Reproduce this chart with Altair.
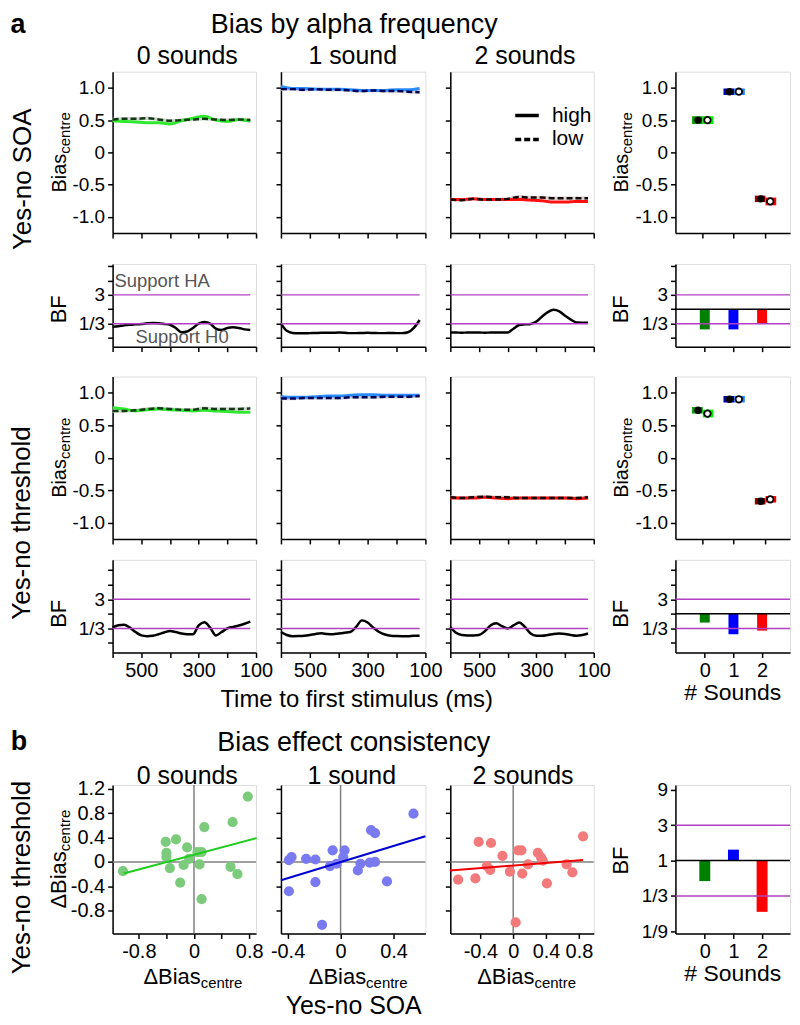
import altair as alt
import pandas as pd

FONT = "Liberation Sans"
PURPLE = "#b23fc4"
GRAY_TXT = "#555555"

# ---------------- data ----------------
times_bias = [600, 560, 520, 480, 440, 400, 360, 320, 280, 240, 200, 160, 120]
times_bf = [600, 580, 560, 540, 520, 500, 480, 460, 440, 420, 400, 380, 360,
            340, 320, 300, 280, 260, 240, 220, 200, 180, 160, 140, 120]

# Bias_centre over time (Yes-no SOA)
soa_0_high = [0.49, 0.48, 0.47, 0.46, 0.46, 0.44, 0.49, 0.53, 0.56, 0.50, 0.48, 0.51, 0.48]
soa_0_low = [0.51, 0.52, 0.52, 0.53, 0.51, 0.49, 0.50, 0.51, 0.52, 0.51, 0.50, 0.51, 0.50]
soa_1_high = [1.02, 0.99, 0.99, 0.98, 0.98, 0.98, 0.97, 0.96, 0.96, 0.96, 0.97, 0.97, 0.99]
soa_1_low = [0.98, 0.98, 0.97, 0.98, 0.97, 0.97, 0.96, 0.95, 0.96, 0.95, 0.95, 0.94, 0.93]
soa_2_high = [-0.73, -0.73, -0.72, -0.73, -0.73, -0.73, -0.73, -0.74, -0.75, -0.77, -0.77, -0.76, -0.76]
soa_2_low = [-0.73, -0.74, -0.72, -0.73, -0.73, -0.72, -0.69, -0.70, -0.70, -0.71, -0.71, -0.71, -0.71]
# Bias_centre over time (Yes-no threshold)
thr_0_high = [0.77, 0.75, 0.72, 0.74, 0.75, 0.74, 0.73, 0.72, 0.73, 0.72, 0.71, 0.70, 0.70]
thr_0_low = [0.72, 0.72, 0.73, 0.75, 0.76, 0.75, 0.74, 0.74, 0.76, 0.75, 0.75, 0.75, 0.76]
thr_1_high = [0.94, 0.93, 0.93, 0.94, 0.95, 0.95, 0.96, 0.97, 0.97, 0.96, 0.96, 0.96, 0.96]
thr_1_low = [0.91, 0.91, 0.92, 0.92, 0.92, 0.92, 0.93, 0.93, 0.93, 0.94, 0.94, 0.94, 0.95]
thr_2_high = [-0.62, -0.62, -0.62, -0.61, -0.62, -0.63, -0.62, -0.62, -0.62, -0.62, -0.62, -0.63, -0.62]
thr_2_low = [-0.61, -0.62, -0.61, -0.60, -0.61, -0.61, -0.62, -0.62, -0.62, -0.62, -0.62, -0.62, -0.61]

# log3(BF) over time
bf_soa_0 = [-1.22, -1.18, -1.12, -1.08, -1.05, -1.02, -0.98, -0.95, -0.97, -1.02, -1.08, -1.3, -1.6,
            -1.55, -1.3, -1.0, -0.88, -1.0, -1.35, -1.45, -1.3, -1.25, -1.3, -1.4, -1.45]
bf_soa_1 = [-1.0, -1.5, -1.65, -1.67, -1.67, -1.66, -1.65, -1.64, -1.64, -1.63, -1.62, -1.63, -1.66,
            -1.66, -1.65, -1.64, -1.65, -1.66, -1.66, -1.65, -1.66, -1.66, -1.6, -1.3, -0.75]
bf_soa_2 = [-1.62, -1.62, -1.63, -1.62, -1.62, -1.62, -1.63, -1.62, -1.62, -1.62, -1.62, -1.35, -1.1,
            -1.05, -1.02, -0.85, -0.5, -0.2, -0.04, -0.15, -0.45, -0.72, -0.92, -0.93, -0.93]
bf_thr_0 = [-0.95, -0.78, -0.75, -0.95, -1.25, -1.48, -1.53, -1.5, -1.4, -1.28, -1.18, -1.25, -1.35,
            -1.4, -1.4, -0.8, -0.58, -0.95, -1.48, -1.25, -1.0, -0.9, -0.8, -0.68, -0.54]
bf_thr_1 = [-1.25, -1.45, -1.53, -1.52, -1.5, -1.45, -1.38, -1.34, -1.38, -1.4, -1.35, -1.3, -1.25,
            -0.9, -0.45, -0.6, -0.95, -1.25, -1.42, -1.5, -1.52, -1.53, -1.53, -1.5, -1.5]
bf_thr_2 = [-0.9, -1.3, -1.45, -1.48, -1.48, -1.45, -1.2, -0.8, -0.65, -0.85, -1.0, -0.8, -0.6,
            -0.9, -1.35, -1.5, -1.5, -1.45, -1.38, -1.35, -1.38, -1.45, -1.5, -1.45, -1.35]

# summaries by number of sounds
sounds = [0, 1, 2]
soa_mean_high = [0.50, 0.94, -0.72]
soa_mean_low = [0.50, 0.94, -0.76]
soa_ci_high = [0.06, 0.05, 0.05]
soa_ci_low = [0.06, 0.05, 0.06]
thr_mean_high = [0.73, 0.90, -0.67]
thr_mean_low = [0.68, 0.90, -0.64]
thr_ci_high = [0.05, 0.05, 0.05]
thr_ci_low = [0.06, 0.05, 0.05]
bf_soa_sum = [-1.4, -1.4, -1.02]
bf_thr_sum = [-0.6, -1.4, -1.15]
bf_consist = [-0.58, 0.31, -1.45]
bf_ref_levels = [1, -1]

# consistency scatter (x: ΔBias Yes-no SOA, y: ΔBias Yes-no threshold)
sc0_x = [-1.03, -0.41, -0.26, -0.40, -0.40, -0.35, -0.20, -0.15, -0.10, -0.07, 0.08, 0.11, 0.15, 0.11, 0.56, 0.53, 0.63, 0.78, 0.05]
sc0_y = [-0.15, 0.33, 0.37, 0.15, 0.08, -0.10, -0.34, -0.05, 0.24, 0.05, -0.04, 0.16, 0.57, -0.61, 0.65, -0.08, -0.20, 1.07, 0.16]
sc1_x = [-0.39, -0.37, -0.39, -0.26, -0.19, -0.19, -0.14, -0.06, -0.08, -0.03, 0.03, 0.02, 0.13, 0.15, 0.22, 0.26, 0.23, 0.26, 0.35, 0.55]
sc1_y = [0.03, 0.08, -0.48, 0.05, 0.04, -0.33, -1.03, 0.19, -0.07, -0.03, 0.19, 0.08, -0.14, -0.03, -0.01, 0.0, 0.52, 0.47, -0.32, 0.79]
sc2_x = [-0.67, -0.46, -0.42, -0.27, -0.32, -0.28, -0.13, -0.04, 0.06, 0.10, 0.11, 0.18, 0.03, 0.30, 0.36, 0.41, 0.65, 0.72, 0.85, 0.34]
sc2_y = [-0.29, -0.27, 0.33, 0.31, -0.07, -0.13, 0.10, -0.16, 0.19, 0.19, -0.19, -0.04, -0.99, 0.15, 0.02, -0.35, -0.04, -0.17, 0.42, 0.07]
fit0_x = [-1.02, 0.91]
fit0_y = [-0.19, 0.39]
fit1_x = [-0.45, 0.64]
fit1_y = [-0.30, 0.42]
fit2_x = [-0.77, 0.85]
fit2_y = [-0.14, 0.03]

# tick labels
time_ticks = [600, 500, 400, 300, 200, 100]
time_tick_labels = ["", "500", "", "300", "", "100"]
bias_ticks = [-1, -0.5, 0, 0.5, 1]
bias_tick_labels = ["-1.0", "-0.5", "0", "0.5", "1.0"]
bf_ticks = [-2, -1, 0, 1, 2, 3]
bf_tick_labels = ["", "1/3", "", "3", "", ""]
bf9_ticks = [-2, -1, 0, 1, 2]
bf9_tick_labels = ["1/9", "1/3", "1", "3", "9"]
sound_tick_labels = ["0", "1", "2"]
scy_ticks = [-0.8, -0.4, 0, 0.4, 0.8, 1.2]
scy_tick_labels = ["-0.8", "-0.4", "0", "0.4", "0.8", "1.2"]
scx0_ticks = [-0.8, -0.4, 0, 0.4, 0.8]
scx0_tick_labels = ["-0.8", "", "0", "", "0.8"]
scx1_ticks = [-0.4, 0, 0.4]
scx1_tick_labels = ["-0.4", "0", "0.4"]
scx2_ticks = [-0.4, 0, 0.4, 0.8]
scx2_tick_labels = ["-0.4", "0", "0.4", "0.8"]

# ---------------- styles ----------------
HIGH_LINE = ["#30e830", "#2a8cff", "#ff1010"]
LOW_LINE = ["#123a12", "#00005a", "#1a0505"]
RECT_HIGH = ["#00a000", "#0000b4", "#960000"]
RECT_LOW = ["#00f000", "#1e82ff", "#ff0000"]
BAR = ["#008000", "#0000ff", "#ff0000"]
SCAT = ["#7ccb7c", "#7a7af0", "#f27a7a"]
FITC = ["#1fcc1f", "#0000d0", "#ee0000"]

W = [144, 145, 144, 115]
H = [162, 83, 163, 93, 149]
GAPS = [31, 30, 21, 133]
COL_GAP = 25
WIDE_GAP = 82
TIME_DOM = [100, 600]
BIAS_DOM = [-1.25, 1.25]
BF_DOM2 = [-2.6, 3.15]
BF_DOM4 = [-2.65, 3.7]
BF_DOMB = [-2.06, 2.14]
SOUND_DOM = [-0.85, 2.8]
SCY_DOM = [-1.17, 1.26]
SCX_DOMS = [[-1.18, 0.9], [-0.45, 0.64], [-0.765, 0.98]]

ONE = pd.DataFrame({"k": [0]})


def lab_expr(values, labels):
    expr = "''"
    for v, l in zip(values, labels):
        if l:
            expr = f"abs(datum.value - ({v})) < 1e-6 ? '{l}' : ({expr})"
    return expr


def axis(values, labels=None, size=19):
    kw = dict(values=values, title=None, grid=False, tickSize=5, tickWidth=1.5,
              domainWidth=1.5, domainColor="black", tickColor="black",
              labelFont=FONT, labelFontSize=size, labelColor="black",
              labelPadding=3, labelFlush=False, labelOverlap=False, labelBound=False)
    if labels is None:
        return alt.Axis(labels=False, **kw)
    return alt.Axis(labelExpr=lab_expr(values, labels), **kw)


def txt(s, x, y, size, angle=0, align="center", baseline="alphabetic", color="black", bold=False):
    props = dict(text=s, font=FONT, fontSize=size, align=align, baseline=baseline, color=color)
    if angle:
        props["angle"] = angle
    if bold:
        props["fontWeight"] = "bold"
    return alt.Chart(ONE).mark_text(**props).encode(x=alt.value(x), y=alt.value(y))


def ytitle(main, sub, x, yc, main_em=1.945, main_size=20, sub_size=15):
    wm = main_em * main_size
    ws = 2.779 * sub_size
    bottom = yc + (wm + ws) / 2
    return [txt(main, x, bottom, main_size, angle=270, align="left"),
            txt(sub, x + 4, bottom - wm, sub_size, angle=270, align="left")]


def xtitle(main, sub, x0, y, main_em=2.613, main_size=22, sub_size=15):
    wm = main_em * main_size
    return [txt(main, x0, y, main_size, align="left"),
            txt(sub, x0 + wm, y + 4, sub_size, align="left")]


def time_scale():
    return alt.Scale(domain=TIME_DOM, reverse=True)


def time_panel(i, high, low, w, h, ylab, texts, legend=False):
    n = len(times_bias)
    df = pd.DataFrame({"t": times_bias * 2, "v": high + low, "freq": ["high"] * n + ["low"] * n})
    X = alt.X("t:Q", scale=time_scale(), axis=axis(time_ticks))
    Y = alt.Y("v:Q", scale=alt.Scale(domain=BIAS_DOM),
              axis=axis(bias_ticks, bias_tick_labels if ylab else None))
    base = alt.Chart(df)
    shade = base.transform_filter("datum.freq == 'low'").mark_line(
        color="#d6d6d6", strokeWidth=3.5, interpolate="monotone").encode(x=X, y=Y)
    hi = base.transform_filter("datum.freq == 'high'").mark_line(
        color=HIGH_LINE[i], strokeWidth=3, interpolate="monotone")
    if legend:
        sd = alt.StrokeDash("freq:N", scale=alt.Scale(domain=["high", "low"], range=[[1, 0], [6, 3]]),
                            legend=alt.Legend(orient="none", legendX=63, legendY=30, title=None,
                                              symbolType="stroke", symbolSize=560,
                                              symbolStrokeWidth=3.5, symbolStrokeColor="black",
                                              labelFont=FONT, labelFontSize=21, labelColor="black",
                                              labelOffset=11, rowPadding=0, padding=0))
        lo = base.transform_filter("datum.freq == 'low'").mark_line(
            color=LOW_LINE[i], strokeWidth=2.5, interpolate="monotone").encode(x=X, y=Y, strokeDash=sd)
        hi = hi.encode(x=X, y=Y, strokeDash=sd)
    else:
        lo = base.transform_filter("datum.freq == 'low'").mark_line(
            color=LOW_LINE[i], strokeWidth=2.5, strokeDash=[6, 3], interpolate="monotone").encode(x=X, y=Y)
        hi = hi.encode(x=X, y=Y)
    return alt.layer(shade, hi, lo, *texts).properties(width=w, height=h)


def bf_time_panel(vals, dom, w, h, xlab, ylab, texts):
    df = pd.DataFrame({"t": times_bf, "v": vals})
    X = alt.X("t:Q", scale=time_scale(),
              axis=axis(time_ticks, time_tick_labels if xlab else None, size=20))
    Y = alt.Y("v:Q", scale=alt.Scale(domain=dom), axis=axis(bf_ticks, bf_tick_labels if ylab else None))
    line = alt.Chart(df).mark_line(color="black", strokeWidth=2.5, interpolate="monotone").encode(x=X, y=Y)
    ref_df = pd.DataFrame({"v": bf_ref_levels,
                           "t": [times_bf[0]] * len(bf_ref_levels),
                           "t_end": [times_bf[-1]] * len(bf_ref_levels)})
    refs = alt.Chart(ref_df).mark_rule(color=PURPLE, strokeWidth=1.5).encode(
        x=X, x2="t_end:Q", y=Y)
    return alt.layer(line, refs, *texts).properties(width=w, height=h)


def sum_bias_panel(mh, ml, ch, cl, w, h, texts):
    df = pd.DataFrame({"sound": sounds * 2, "freq": ["high"] * 3 + ["low"] * 3,
                       "m": mh + ml, "ci": ch + cl})
    ch_expr = "[" + ",".join(f"'{c}'" for c in RECT_HIGH) + "][datum.sound]"
    cl_expr = "[" + ",".join(f"'{c}'" for c in RECT_LOW) + "][datum.sound]"
    base = alt.Chart(df).transform_calculate(
        xc="datum.sound + (datum.freq == 'high' ? -0.13 : 0.17)",
        x1="datum.sound + (datum.freq == 'high' ? -0.32 : 0.02)",
        x2="datum.sound + (datum.freq == 'high' ? 0.02 : 0.36)",
        lo="datum.m - datum.ci", hi="datum.m + datum.ci",
        col=f"datum.freq == 'high' ? {ch_expr} : {cl_expr}")
    Xs = alt.Scale(domain=SOUND_DOM)
    Ys = alt.Scale(domain=BIAS_DOM)
    xa = axis(sounds)
    ya = axis(bias_ticks, bias_tick_labels)
    rect = base.mark_rect().encode(
        x=alt.X("x1:Q", scale=Xs, axis=xa), x2="x2:Q",
        y=alt.Y("lo:Q", scale=Ys, axis=ya), y2="hi:Q",
        color=alt.Color("col:N", scale=None))
    ph = base.transform_filter("datum.freq == 'high'").mark_circle(
        color="black", size=55, opacity=1).encode(
        x=alt.X("xc:Q", scale=Xs, axis=xa), y=alt.Y("m:Q", scale=Ys, axis=ya))
    pl = base.transform_filter("datum.freq == 'low'").mark_circle(
        fill="white", stroke="black", strokeWidth=1.8, size=42, opacity=1).encode(
        x=alt.X("xc:Q", scale=Xs, axis=xa), y=alt.Y("m:Q", scale=Ys, axis=ya))
    return alt.layer(rect, ph, pl, *texts).properties(width=w, height=h)


def bf_sum_panel(vals, dom, w, h, xlab, yticks, ylabels, size, texts):
    df = pd.DataFrame({"sound": sounds, "bf": vals})
    X = alt.X("sound:Q", scale=alt.Scale(domain=SOUND_DOM),
              axis=axis(sounds, sound_tick_labels if xlab else None, size=20))
    Y = alt.Y("bf:Q", scale=alt.Scale(domain=dom), axis=axis(yticks, ylabels))
    bar_expr = "[" + ",".join(f"'{c}'" for c in BAR) + "][datum.sound]"
    bars = alt.Chart(df).transform_calculate(col=bar_expr).mark_bar(size=size).encode(
        x=X, y=Y, y2=alt.datum(0), color=alt.Color("col:N", scale=None))
    purple = alt.Chart(pd.DataFrame({"bf": bf_ref_levels})).mark_rule(
        color=PURPLE, strokeWidth=1.5).encode(y=Y)
    black = alt.Chart(pd.DataFrame({"bf": [0]})).mark_rule(color="black", strokeWidth=1.5).encode(y=Y)
    return alt.layer(bars, purple, black, *texts).properties(width=w, height=h)


def scatter_panel(i, xs, ys, fx, fy, xticks, xlabels, ylab, w, h, texts):
    X = alt.X("x:Q", scale=alt.Scale(domain=SCX_DOMS[i]), axis=axis(xticks, xlabels, size=20))
    Y = alt.Y("y:Q", scale=alt.Scale(domain=SCY_DOM),
              axis=axis(scy_ticks, scy_tick_labels if ylab else None, size=20))
    pts = alt.Chart(pd.DataFrame({"x": xs, "y": ys})).mark_circle(
        color=SCAT[i], size=105, opacity=1).encode(x=X, y=Y)
    zx = alt.Chart(pd.DataFrame({"x": [0]})).mark_rule(color="#808080", strokeWidth=1.5).encode(x=X)
    zy = alt.Chart(pd.DataFrame({"y": [0]})).mark_rule(color="#808080", strokeWidth=1.5).encode(y=Y)
    fit = alt.Chart(pd.DataFrame({"x": fx, "y": fy})).mark_line(
        color=FITC[i], strokeWidth=2).encode(x=X, y=Y)
    return alt.layer(zx, zy, pts, fit, *texts).properties(width=w, height=h)


def zero_y(dom, h):
    return h * dom[1] / (dom[1] - dom[0])


def spacer(w, h):
    return alt.Chart(ONE).mark_text(text="", opacity=0).encode(
        x=alt.value(0), y=alt.value(0)).properties(
        width=w, height=h,
        view=alt.ViewBackground(stroke="transparent", strokeOpacity=0, strokeWidth=0))


# ---------------- panels ----------------
r1 = [
    time_panel(0, soa_0_high, soa_0_low, W[0], H[0], True,
               [txt("a", -95, -38.5, 27, bold=True),
                txt("0 sounds", 75, -8, 25),
                txt("Yes-no SOA", -82, 108, 26, angle=270)]
               + ytitle("Bias", "centre", -47, H[0] / 2)),
    time_panel(1, soa_1_high, soa_1_low, W[1], H[0], False,
               [txt("Bias by alpha frequency", 73.5, -39, 27), txt("1 sound", 72, -8, 25)]),
    time_panel(2, soa_2_high, soa_2_low, W[2], H[0], False,
               [txt("2 sounds", 75, -8, 25)], legend=True),
    sum_bias_panel(soa_mean_high, soa_mean_low, soa_ci_high, soa_ci_low, W[3], H[0],
                   ytitle("Bias", "centre", -48, H[0] / 2)),
]

r2 = [
    bf_time_panel(bf_soa_0, BF_DOM2, W[0], H[1], False, True,
                  [txt("BF", -47, zero_y(BF_DOM2, H[1]), 22, angle=270),
                   txt("Support HA", 2, 23, 18.5, align="left", color=GRAY_TXT),
                   txt("Support H0", 23, 79, 18.5, align="left", color=GRAY_TXT)]),
    bf_time_panel(bf_soa_1, BF_DOM2, W[1], H[1], False, False, []),
    bf_time_panel(bf_soa_2, BF_DOM2, W[2], H[1], False, False, []),
    bf_sum_panel(bf_soa_sum, BF_DOM2, W[3], H[1], False, bf_ticks, bf_tick_labels, 10,
                 [txt("BF", -48, zero_y(BF_DOM2, H[1]), 22, angle=270)]),
]

r3 = [
    time_panel(0, thr_0_high, thr_0_low, W[0], H[2], True,
               [txt("Yes-no threshold", -83, 147, 26, angle=270)]
               + ytitle("Bias", "centre", -47, H[2] / 2)),
    time_panel(1, thr_1_high, thr_1_low, W[1], H[2], False, []),
    time_panel(2, thr_2_high, thr_2_low, W[2], H[2], False, []),
    sum_bias_panel(thr_mean_high, thr_mean_low, thr_ci_high, thr_ci_low, W[3], H[2],
                   ytitle("Bias", "centre", -48, H[2] / 2)),
]

r4 = [
    bf_time_panel(bf_thr_0, BF_DOM4, W[0], H[3], True, True,
                  [txt("BF", -47, zero_y(BF_DOM4, H[3]), 22, angle=270)]),
    bf_time_panel(bf_thr_1, BF_DOM4, W[1], H[3], True, False,
                  [txt("Time to first stimulus (ms)", 76, 148, 24)]),
    bf_time_panel(bf_thr_2, BF_DOM4, W[2], H[3], True, False, []),
    bf_sum_panel(bf_thr_sum, BF_DOM4, W[3], H[3], True, bf_ticks, bf_tick_labels, 10,
                 [txt("BF", -48, zero_y(BF_DOM4, H[3]), 22, angle=270),
                  txt("# Sounds", 57.5, H[3] + 48, 23)]),
]

rb = [
    scatter_panel(0, sc0_x, sc0_y, fit0_x, fit0_y, scx0_ticks, scx0_tick_labels, True, W[0], H[4],
                  [txt("b", -94, -43, 27, baseline="middle", bold=True),
                   txt("0 sounds", 75, -1, 25),
                   txt("Yes-no threshold", -83, 93, 26, angle=270)]
                  + ytitle("\u0394Bias", "centre", -47, H[4] / 2, main_em=2.613, main_size=22)
                  + xtitle("\u0394Bias", "centre", 31, 200)),
    scatter_panel(1, sc1_x, sc1_y, fit1_x, fit1_y, scx1_ticks, scx1_tick_labels, False, W[1], H[4],
                  [txt("Bias effect consistency", 73, -34, 27),
                   txt("1 sound", 71, -1, 25),
                   txt("Yes-no SOA", 73, 230, 25)]
                  + xtitle("\u0394Bias", "centre", 28, 200)),
    scatter_panel(2, sc2_x, sc2_y, fit2_x, fit2_y, scx2_ticks, scx2_tick_labels, False, W[2], H[4],
                  [txt("2 sounds", 73, -1, 25)]
                  + xtitle("\u0394Bias", "centre", 27, 200)),
    bf_sum_panel(bf_consist, BF_DOMB, W[3], H[4], True, bf9_ticks, bf9_tick_labels, 11,
                 [txt("BF", -48, zero_y(BF_DOMB, H[4]), 22, angle=270),
                  txt("# Sounds", 57.5, H[4] + 48, 23)]),
]

# ---------------- grid (spacer cells give the uneven gaps) ----------------
cells = []
content_rows = [r1, r2, r3, r4, rb]
for k, rc in enumerate(content_rows):
    cells += [rc[0], rc[1], rc[2], spacer(WIDE_GAP - 2 * COL_GAP, 1), rc[3]]
    if k < len(GAPS):
        cells += [spacer(1, GAPS[k])] + [spacer(1, 1) for _ in range(4)]

chart = alt.concat(
    *cells, columns=5, spacing={"row": 0, "column": COL_GAP}, bounds="flush", align="each"
).resolve_scale(strokeDash="independent").resolve_legend(strokeDash="independent").properties(
    padding=0
).configure_view(stroke=None).configure_axis(grid=False).configure(font=FONT)

chart.save("out.html", embed_options={"renderer": "svg", "actions": False})
